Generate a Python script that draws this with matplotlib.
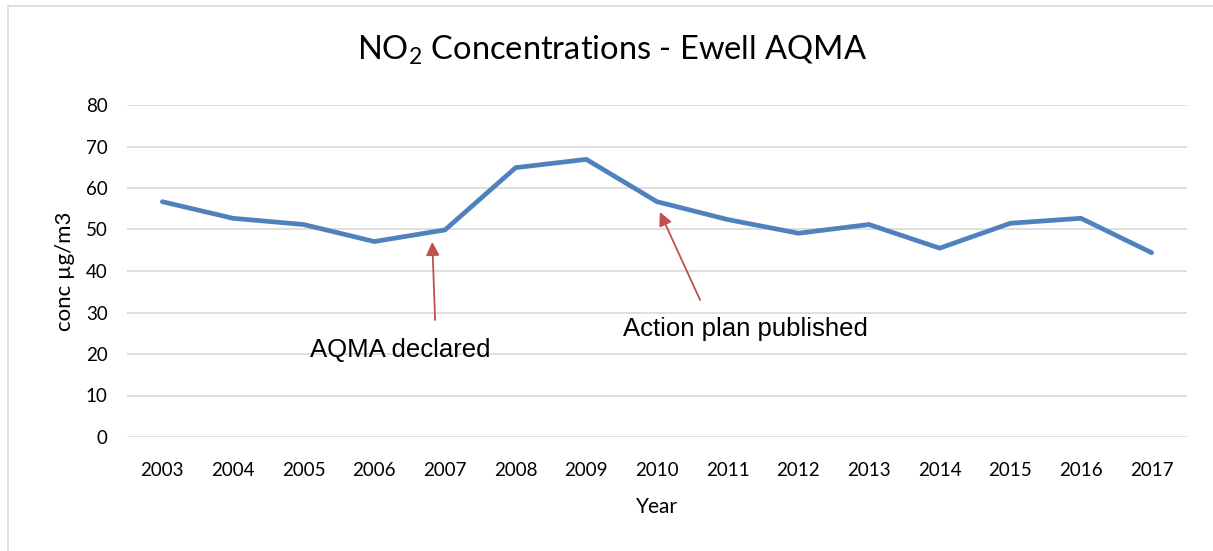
import matplotlib.pyplot as plt
import numpy as np

# --- data ---
years = ["2003", "2004", "2005", "2006", "2007", "2008", "2009", "2010",
         "2011", "2012", "2013", "2014", "2015", "2016", "2017"]
no2 = [56.7, 52.7, 51.2, 47.1, 49.9, 64.9, 66.9, 56.7,
       52.4, 49.1, 51.2, 45.5, 51.5, 52.7, 44.4]
y_ticks = [0, 10, 20, 30, 40, 50, 60, 70, 80]

plt.rcParams['font.family'] = ['Lato', 'DejaVu Sans']
plt.rcParams['mathtext.fontset'] = 'custom'
plt.rcParams['mathtext.rm'] = 'Lato'
plt.rcParams['mathtext.it'] = 'Lato'

fig = plt.figure(figsize=(12.13, 5.51), dpi=100)
ax = fig.add_axes([127 / 1213, 1 - 437 / 551, 1060 / 1213, 332 / 551])

x = np.arange(len(years))
ax.plot(x, no2, color='#4F81BD', linewidth=3.4, solid_capstyle='round',
        solid_joinstyle='miter', zorder=3)

ax.set_xlim(-0.5, len(years) - 0.5)
ax.set_ylim(0, 80)
ax.set_yticks(y_ticks)
ax.set_xticks(x)
ax.set_xticklabels(years)
ax.tick_params(axis='both', length=0, labelsize=13.5, colors='#000000')
ax.tick_params(axis='x', pad=18)
ax.tick_params(axis='y', pad=14)
ax.grid(axis='y', color='#D9D9D9', linewidth=1.2, zorder=0)
for s in ax.spines.values():
    s.set_visible(False)

fig.text(0.505, 1 - 50 / 551, r"NO$_2$ Concentrations - Ewell AQMA",
         fontsize=23.5, ha='center', va='center')
ax.set_ylabel("conc µg/m3", fontsize=16, labelpad=8)
ax.set_xlabel("Year", fontsize=15, labelpad=13)

# white boxes masking the grid behind the labels
ax.add_patch(plt.Rectangle((1.71, 13), 3.63, 14, fc='white', ec='none', zorder=1))
ax.add_patch(plt.Rectangle((6.17, 21), 4.24, 14, fc='white', ec='none', zorder=1))

txt_kw = dict(fontsize=18.5, family='Liberation Sans', color='black',
              ha='center', va='center', zorder=4)
ax.text(3.36, 21.0, "AQMA declared", **txt_kw)
ax.text(8.25, 26.0, "Action plan published", **txt_kw)

arrow_kw = dict(arrowstyle='-|>', color='#C0504D', lw=1.3,
                mutation_scale=20, shrinkA=0, shrinkB=0)
ax.annotate("", xy=(3.82, 47.0), xytext=(3.86, 28.2), arrowprops=arrow_kw, zorder=4)
ax.annotate("", xy=(7.04, 54.2), xytext=(7.61, 33.0), arrowprops=arrow_kw, zorder=4)

# outer light frame
fig.add_artist(plt.Rectangle((8 / 1213, -0.01), 1.1, 1 - 6 / 551 + 0.01,
                             transform=fig.transFigure, fill=False,
                             edgecolor='#D9D9D9', linewidth=1.2))

fig.savefig("out.png", dpi=100)
